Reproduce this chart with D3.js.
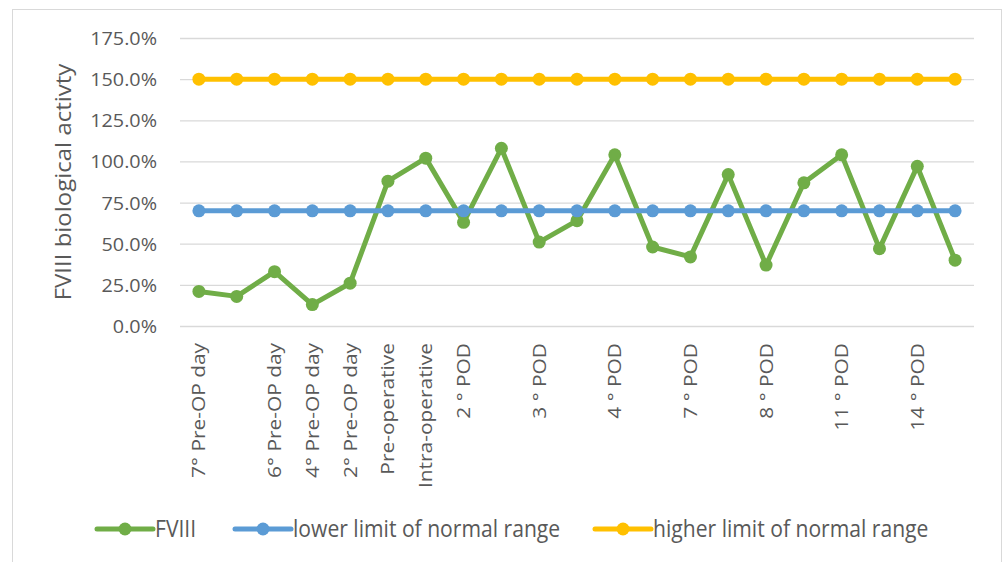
<!DOCTYPE html>
<html>
<head>
<meta charset="utf-8">
<script src="https://cdn.jsdelivr.net/npm/d3@7"></script>
<style>
  body { margin: 0; background: #fff; }
  text { font-family: "Open Sans", "DejaVu Sans", sans-serif; fill: #595959; }
  .legend text { font-family: "Liberation Sans Narrow", "Open Sans", sans-serif; }
</style>
</head>
<body>
<div id="chart"></div>
<script>
// categories (blank labels are skipped ticks in the original)
const labels = ["7° Pre-OP day", "", "6° Pre-OP day", "4° Pre-OP day", "2° Pre-OP day",
  "Pre-operative", "Intra-operative", "2 ° POD", "", "3 ° POD", "", "4 ° POD", "",
  "7 ° POD", "", "8 ° POD", "", "11 ° POD", "", "14 ° POD", ""];
const fviii = [21, 18, 33, 13, 26, 88, 102, 63, 108, 51, 64, 104, 48, 42, 92, 37, 87, 104, 47, 97, 40];
const lowerLimit = [70, 70, 70, 70, 70, 70, 70, 70, 70, 70, 70, 70, 70, 70, 70, 70, 70, 70, 70, 70, 70];
const higherLimit = [150, 150, 150, 150, 150, 150, 150, 150, 150, 150, 150, 150, 150, 150, 150, 150, 150, 150, 150, 150, 150];
const yTicks = [0, 25, 50, 75, 100, 125, 150, 175];

const series = [
  {name: "FVIII", values: fviii, color: "#70AD47"},
  {name: "lower limit of normal range", values: lowerLimit, color: "#5B9BD5"},
  {name: "higher limit of normal range", values: higherLimit, color: "#FFC000"}
];

const W = 1004, H = 562;
const margin = {top: 38, right: 30, bottom: 236, left: 180};
const width = 974 - margin.left, height = 326 - margin.top;

const svg = d3.select("#chart").append("svg")
  .attr("width", W).attr("height", H);

// outer chart border
svg.append("rect")
  .attr("x", 12.5).attr("y", 9.5)
  .attr("width", 989).attr("height", 600)
  .attr("fill", "none").attr("stroke", "#D9D9D9");

const g = svg.append("g").attr("transform", `translate(${margin.left},${margin.top})`);

const x = d3.scaleBand().domain(d3.range(labels.length)).range([0, width]);
const y = d3.scaleLinear().domain([0, 175]).range([height, 0]);

// gridlines + y labels (text a bit wider than Open Sans, so stretched slightly)
const ySx = 1.07;
g.append("g")
  .call(d3.axisLeft(y).tickValues(yTicks).tickSize(-width).tickFormat(d => d.toFixed(1) + "%"))
  .call(a => a.select(".domain").remove())
  .call(a => a.selectAll("line").attr("stroke", "#D9D9D9").attr("stroke-width", 1.3))
  .call(a => a.selectAll("text").attr("font-size", 18.5).style("fill", "#595959")
    .attr("font-family", "Open Sans")
    .attr("transform", `scale(${ySx},1)`)
    .attr("x", -23 / ySx).attr("dy", "0.35em"));

// x labels
const xSx = 1.13;
g.append("g")
  .attr("transform", `translate(0,${height})`)
  .call(d3.axisBottom(x).tickSize(0).tickFormat(i => labels[i]))
  .call(a => a.select(".domain").remove())
  .call(a => a.selectAll("text")
    .attr("font-size", 18.5).attr("font-family", "Open Sans").style("fill", "#595959")
    .attr("text-anchor", "end")
    .attr("transform", `rotate(-90) scale(${xSx},1)`)
    .attr("x", -17 / xSx).attr("y", 0).attr("dy", "0.35em"));

// y axis title
svg.append("text")
  .attr("transform", `translate(71,${margin.top + height / 2}) rotate(-90) scale(1.09,1)`)
  .attr("text-anchor", "middle")
  .attr("font-size", 22)
  .text("FVIII biological activty");

const line = d3.line()
  .x((d, i) => x(i) + x.bandwidth() / 2)
  .y(d => y(d));

series.forEach(s => {
  g.append("path")
    .datum(s.values)
    .attr("fill", "none")
    .attr("stroke", s.color)
    .attr("stroke-width", 5)
    .attr("stroke-linejoin", "round")
    .attr("d", line);
  g.append("g").selectAll("circle")
    .data(s.values)
    .join("circle")
    .attr("cx", (d, i) => x(i) + x.bandwidth() / 2)
    .attr("cy", d => y(d))
    .attr("r", 6.5)
    .attr("fill", s.color);
});

// legend
const legendX = [97, 235, 595];
const legend = svg.append("g").attr("class", "legend");
series.forEach((s, i) => {
  const lg = legend.append("g").attr("transform", `translate(${legendX[i]},529)`);
  lg.append("line").attr("x1", 0).attr("x2", 56).attr("y1", 0).attr("y2", 0)
    .attr("stroke", s.color).attr("stroke-width", 5).attr("stroke-linecap", "round");
  lg.append("circle").attr("cx", 28).attr("cy", 0).attr("r", 6.5).attr("fill", s.color);
  lg.append("text").attr("transform", "translate(58,8) scale(0.88,1)")
    .attr("font-size", 24).text(s.name);
});
</script>
</body>
</html>
